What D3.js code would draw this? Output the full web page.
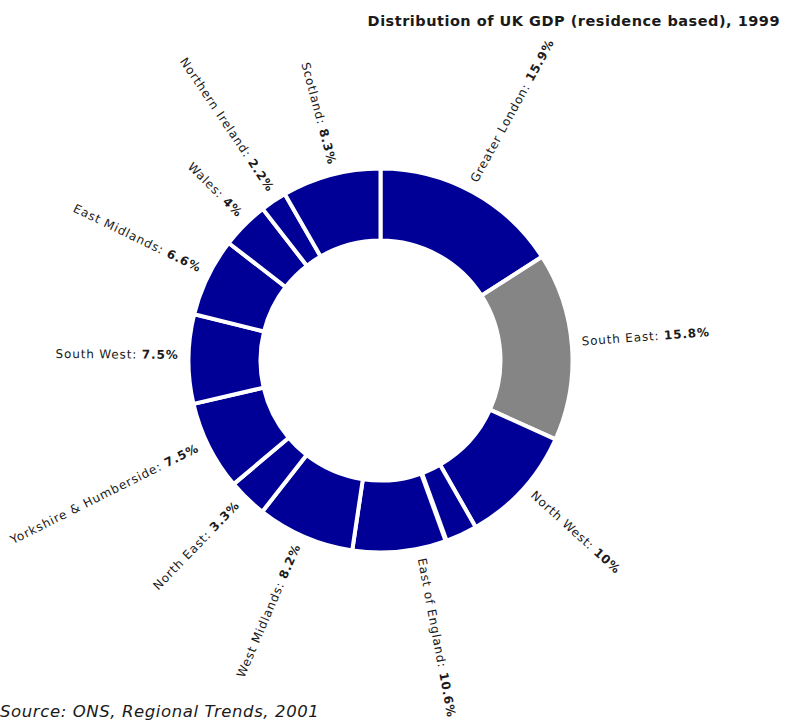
<!DOCTYPE html>
<html>
<head>
<meta charset="utf-8">
<script src="https://cdn.jsdelivr.net/npm/d3@7/dist/d3.min.js"></script>
<style>
  html, body { margin: 0; padding: 0; background: #fff; }
  svg { display: block; }
  text { font-family: "DejaVu Sans", Verdana, sans-serif; fill: #1a1a1a; }
</style>
</head>
<body>
<svg id="chart" width="787" height="722"></svg>
<script>
// Regional shares of UK GDP (residence based), 1999, clockwise from 12 o'clock
const regions = [
  "Greater London", "South East", "North West", "East of England",
  "West Midlands", "North East", "Yorkshire & Humberside", "South West",
  "East Midlands", "Wales", "Northern Ireland", "Scotland"
];
const shares = [15.9, 15.8, 10, 10.6, 8.2, 3.3, 7.5, 7.5, 6.6, 4, 2.2, 8.3];
const highlighted = "South East";

// Extra white rule drawn inside a slice (percentage points from the slice start)
const insetRules = [{ region: "East of England", at: 2.7 }];

const title = "Distribution of UK GDP (residence based), 1999";
const source = "Source: ONS, Regional Trends, 2001";

const data = regions.map((r, i) => ({ region: r, share: shares[i] }));

const svg = d3.select("#chart");
const cx = 380.5, cy = 360.5;
const outerR = 192, innerR = 120, labelR = 202;

const pie = d3.pie().sort(null).value(d => d.share);
const arcs = pie(data);
const arc = d3.arc().innerRadius(innerR).outerRadius(outerR);

const color = d => d.region === highlighted ? "#858585" : "#000096";

const g = svg.append("g").attr("transform", `translate(${cx},${cy})`);

g.selectAll("path.slice")
  .data(arcs)
  .join("path")
  .attr("class", "slice")
  .attr("d", arc)
  .attr("fill", d => color(d.data))
  .attr("stroke", "#fff")
  .attr("stroke-width", 4)
  .attr("stroke-linejoin", "miter");

// inset white rule
const total = d3.sum(shares);
const angleOf = d3.scaleLinear().domain([0, total]).range([0, 2 * Math.PI]);
insetRules.forEach(rule => {
  const a = arcs.find(d => d.data.region === rule.region);
  const ang = a.startAngle + angleOf(rule.at);
  g.append("line")
    .attr("x1", Math.sin(ang) * (innerR - 4))
    .attr("y1", -Math.cos(ang) * (innerR - 4))
    .attr("x2", Math.sin(ang) * (outerR + 2))
    .attr("y2", -Math.cos(ang) * (outerR + 2))
    .attr("stroke", "#fff")
    .attr("stroke-width", 5);
});

// radial labels
g.selectAll("text.label")
  .data(arcs)
  .join("text")
  .attr("class", "label")
  .attr("font-size", 12)
  .attr("letter-spacing", 0.85)
  .each(function (d) {
    const mid = (d.startAngle + d.endAngle) / 2;
    const deg = mid * 180 / Math.PI;
    const right = deg < 180;
    const t = d3.select(this)
      .attr("transform", right
        ? `rotate(${deg - 90}) translate(${labelR},0)`
        : `rotate(${deg - 90}) translate(${labelR},0) rotate(180)`)
      .attr("text-anchor", right ? "start" : "end");
    t.append("tspan").text(d.data.region + ": ");
    t.append("tspan").attr("font-weight", "bold").text(d.data.share + "%");
  });

svg.append("text")
  .attr("x", 780).attr("y", 26)
  .attr("text-anchor", "end")
  .attr("font-size", 14.5)
  .attr("letter-spacing", 0.5)
  .attr("font-weight", "bold")
  .text(title);

svg.append("text")
  .attr("x", 0).attr("y", 717)
  .attr("font-size", 16.5)
  .attr("letter-spacing", 0.6)
  .attr("font-style", "italic")
  .text(source);
</script>
</body>
</html>
